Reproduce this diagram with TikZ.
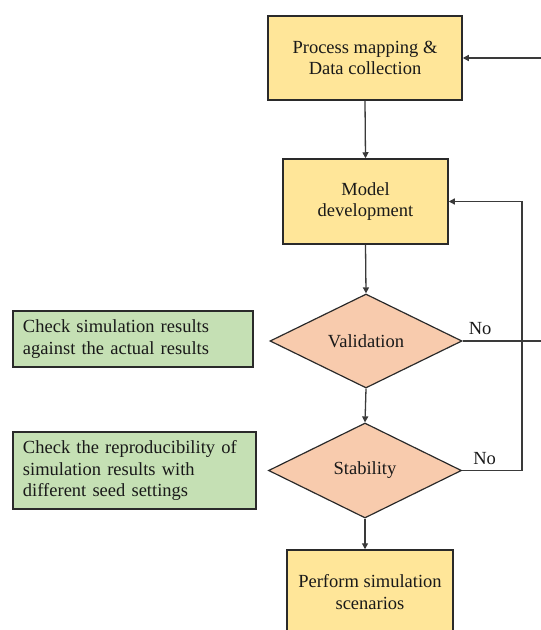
\documentclass[tikz,border=0pt]{standalone}
\usepackage{fontspec}
\setmainfont{Liberation Serif}
\usetikzlibrary{arrows.meta,shapes.geometric}
\definecolor{boxyellow}{HTML}{FFE699}
\definecolor{decorange}{HTML}{F8CBAD}
\definecolor{notegreen}{HTML}{C5E0B4}
\definecolor{edgegray}{HTML}{2A2A2A}
\definecolor{linegray}{HTML}{3A3A3A}
\tikzset{
  every node/.style={font=\fontsize{18.5bp}{21.5bp}\selectfont, text=black!90},
  procbox/.style={draw=edgegray, line width=1.5bp, fill=boxyellow, align=center, inner sep=0pt},
  decision/.style={draw=edgegray, line width=1.2bp, fill=decorange, diamond, aspect=2, inner sep=0pt},
  notebox/.style={draw=edgegray, line width=1.5bp, fill=notegreen, align=left, inner xsep=10bp, inner ysep=0pt},
  flow/.style={draw=linegray, line width=1.3bp},
  flowarrow/.style={flow, -{Triangle[length=6bp,width=6bp]}}
}
\begin{document}
\begin{tikzpicture}[x=1bp,y=-1bp]
  \useasboundingbox (0,0) rectangle (541,630);
  \clip (0,0) rectangle (541,630);

  % main process steps
  \node[procbox, minimum width=194bp, minimum height=84bp] (collect) at (365,58)
    {Process mapping \&\\Data collection};
  \node[procbox, minimum width=165bp, minimum height=85bp] (model) at (365.5,201.5)
    {Model\\development};
  \node[decision, minimum width=192bp, minimum height=94bp] (valid) at (366,341) {Validation};
  \node[decision, minimum width=193bp, minimum height=95bp] (stab) at (365,470.5) {Stability};
  \node[procbox, minimum width=166bp, minimum height=84bp] (scen) at (370,592)
    {Perform simulation\\scenarios};

  % explanatory notes
  \node[notebox, text width=220bp, minimum height=56bp] (note1) at (133,339)
    {Check simulation results\\against the actual results};
  \node[notebox, text width=223bp, minimum height=77bp] (note2) at (134.5,470.5)
    {Check the reproducibility of\\simulation results with\\different seed settings};

  % loop-back corners
  \coordinate (vcorner) at (548,341);
  \coordinate (scorner) at (522,470.5);

  % main flow
  \draw[flowarrow] (collect.south) -- (model.north);
  \draw[flowarrow] (model.south) -- (valid.north);
  \draw[flowarrow] (valid.south) -- (stab.north);
  \draw[flowarrow] (stab.south) -- (stab.south |- scen.north);

  % "No" branches
  \draw[flowarrow] (valid.east) -- (vcorner) -- (vcorner |- collect.east) -- (collect.east);
  \draw[flowarrow] (stab.east) -- (scorner) -- (scorner |- model.east) -- (model.east);
  \node[anchor=south west, inner sep=0pt] (no1) at ([xshift=6bp,yshift=6bp]valid.east) {No};
  \node[anchor=south west, inner sep=0pt] (no2) at ([xshift=11bp,yshift=6bp]stab.east) {No};
\end{tikzpicture}
\end{document}
